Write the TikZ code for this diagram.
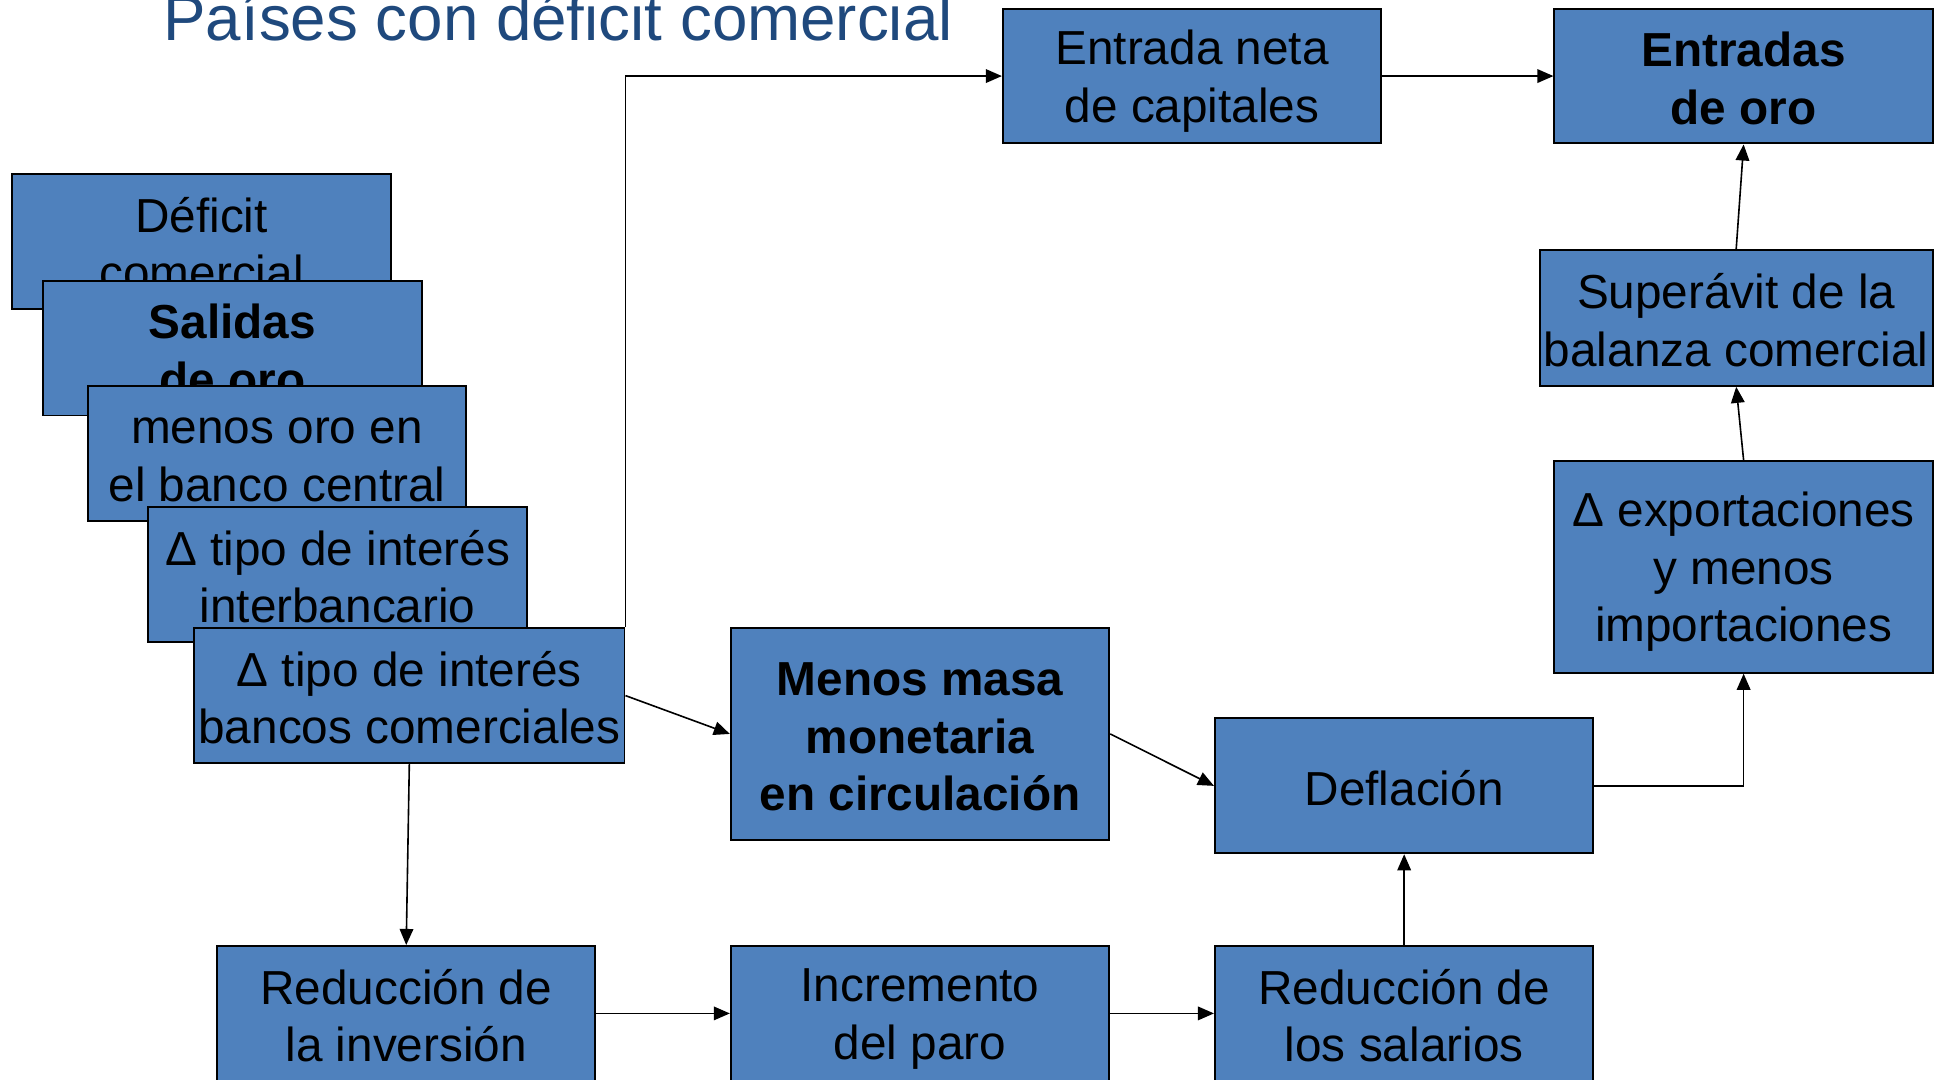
\documentclass[tikz,border=0pt]{standalone}
\usepackage{fontspec}
\setmainfont{Liberation Sans}
\usetikzlibrary{arrows.meta}
\definecolor{boxblue}{RGB}{79,129,189}
\definecolor{titleblue}{RGB}{31,73,125}
\newcommand\bst{\rule[-4.5pt]{0pt}{40.5pt}}
\newcommand\bxfont{\fontsize{38.6pt}{46.5pt}\selectfont}
\begin{document}
\begin{tikzpicture}[x=1pt,y=-1pt,
  box/.style={draw=black, line width=1.6pt, fill=boxblue, inner sep=0pt, align=center,
              minimum width=306pt, minimum height=109pt, font=\bxfont},
  conn/.style={draw=black, line width=1.3pt, -{Triangle[length=13pt,width=11pt]}}]
\useasboundingbox (0,0) rectangle (1568,873);
\clip (0,0) rectangle (1568,873);
\node[anchor=base west, inner sep=0pt, text=titleblue, font=\fontsize{51.5pt}{60pt}\selectfont] (title) at (132,33) {Países con déficit comercial};
% stacked boxes
\node[box] (n1) at (163,195.5) {\bst Déficit\\\bst comercial};
\node[box, font=\bxfont\bfseries] (n2) at (188,281.5) {\bst Salidas\\\bst de oro};
\node[box] (n3) at (224,366.5) {\bst menos oro en\\\bst el banco central};
\node[box] (n4) at (273,464.5) {\bst Δ tipo de interés\\\bst interbancario};
\node[box, minimum width=348pt] (n5) at (331,562.5) {\bst Δ tipo de interés\\\bst bancos comerciales};
% top row
\node[box] (n6) at (964,61.5) {\bst Entrada neta\\\bst de capitales};
\node[box, font=\bxfont\bfseries] (n7) at (1410,61.5) {\bst Entradas\\\bst de oro};
% right column
\node[box, minimum width=318pt, minimum height=110pt] (n8) at (1404,257) {\bst Superávit de la\\\bst balanza comercial};
\node[box, minimum height=171pt] (n9) at (1410,458.5) {\bst Δ exportaciones\\\bst y menos\hspace*{0.278em}\\\bst importaciones};
% middle
\node[box, minimum height=171pt, font=\bxfont\bfseries] (n10) at (744,593.5) {\bst Menos masa\\\bst monetaria\\\bst en circulación};
\node[box] (n11) at (1135.5,635.5) {\bst Deflación};
% bottom row
\node[box] (n12) at (328.5,819.5) {\bst Reducción de\\\bst la inversión};
\node[box] (n13) at (744,819.5) {\bst Incremento\\\bst del paro};
\node[box] (n14) at (1135.5,819.5) {\bst Reducción de\\\bst los salarios};
% connectors
\draw[conn] (n5.north east) |- (n6.west);
\draw[conn] (n6.east) -- (n7.west);
\draw[conn] (n8.north) -- (n7.south);
\draw[conn] (n9.north) -- (n8.south);
\draw[conn] (n11.east) -| (n9.south);
\draw[conn] (n5.east) -- (n10.west);
\draw[conn] (n10.east) -- (n11.west);
\draw[conn] (n5.south) -- (n12.north);
\draw[conn] (n12.east) -- (n13.west);
\draw[conn] (n13.east) -- (n14.west);
\draw[conn] (n14.north) -- (n11.south);
\end{tikzpicture}
\end{document}
